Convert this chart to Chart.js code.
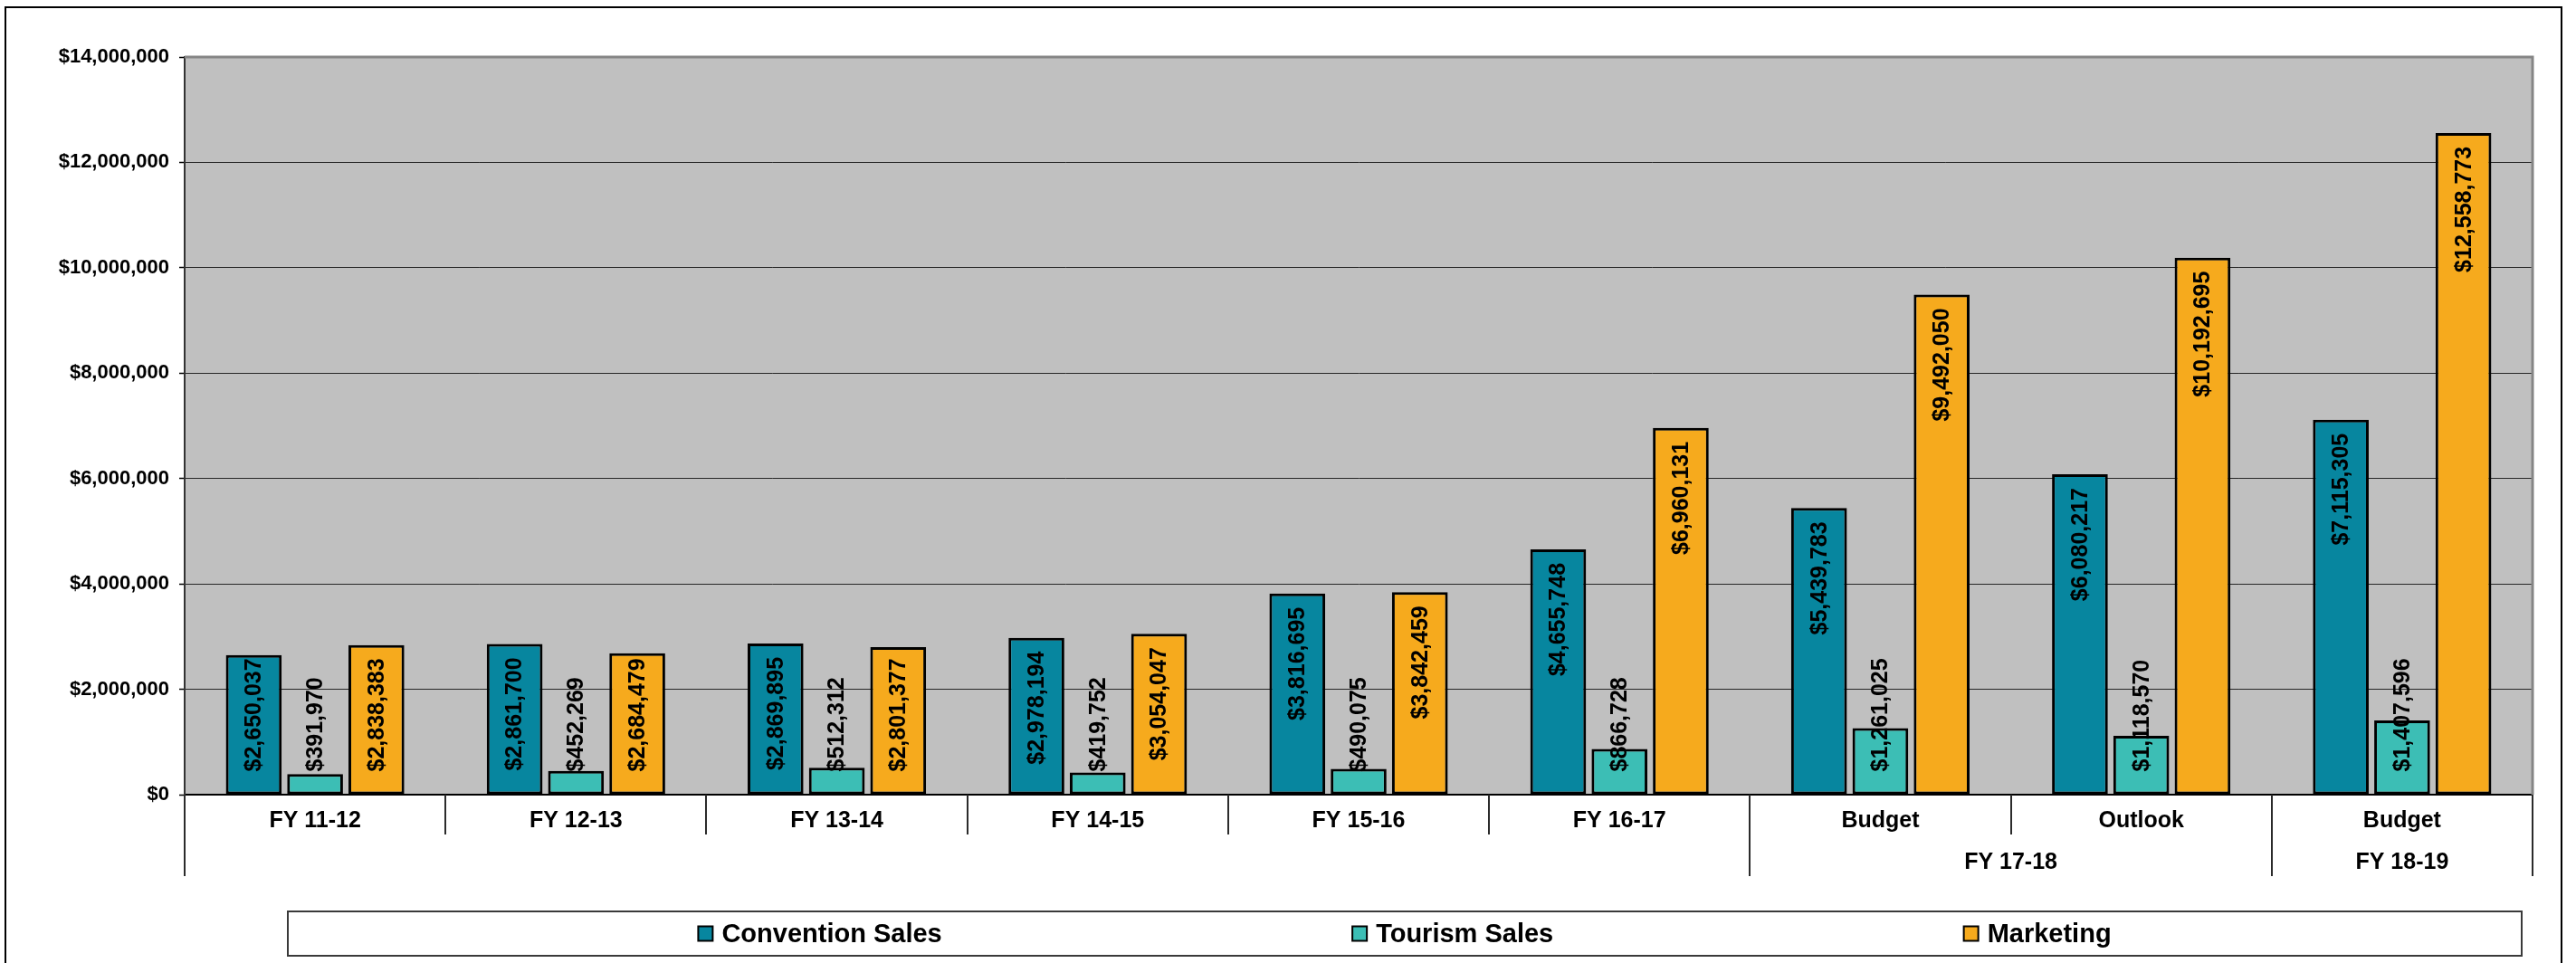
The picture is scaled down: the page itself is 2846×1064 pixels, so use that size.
<!DOCTYPE html>
<html>
<head>
<meta charset="utf-8">
<title>Sales and Marketing by Fiscal Year</title>
<script src="https://cdn.jsdelivr.net/npm/chart.js@4.4.1/dist/chart.umd.min.js"></script>
<style>
    html, body { margin: 0; padding: 0; background: #fff; }
    #wrap { width: 2846px; height: 1064px; position: relative; }
</style>
</head>
<body>
<div id="wrap"><canvas id="salesChart" width="2846" height="1064"></canvas></div>
<script>
// categories along the x axis, with the fiscal year each one rolls up to
const categories = ['FY 11-12', 'FY 12-13', 'FY 13-14', 'FY 14-15', 'FY 15-16', 'FY 16-17', 'Budget', 'Outlook', 'Budget'];
const fiscalGroups = ['', '', '', '', '', '', 'FY 17-18', 'FY 17-18', 'FY 18-19'];

const seriesNames = ['Convention Sales', 'Tourism Sales', 'Marketing'];
const conventionSales = [2650037, 2861700, 2869895, 2978194, 3816695, 4655748, 5439783, 6080217, 7115305];
const tourismSales = [391970, 452269, 512312, 419752, 490075, 866728, 1261025, 1118570, 1407596];
const marketing = [2838383, 2684479, 2801377, 3054047, 3842459, 6960131, 9492050, 10192695, 12558773];

const yMax = 14000000;
const yStep = 2000000;

const colors = ['#07869F', '#3CBEB5', '#F6AA1D'];
const FONT = '"Liberation Sans", Arial, sans-serif';

const money = v => '$' + Number(v).toLocaleString('en-US');

document.addEventListener('DOMContentLoaded', () => {
    // grey plot background
    const plotBackground = {
        id: 'plotBackground',
        beforeDraw(chart) {
            const { ctx, chartArea: a } = chart;
            ctx.save();
            ctx.fillStyle = '#C0C0C0';
            ctx.fillRect(a.left, a.top, a.right - a.left, a.bottom - a.top);
            ctx.restore();
        }
    };

    // rotated value labels inside the bars
    const barValues = {
        id: 'barValues',
        afterDatasetsDraw(chart) {
            const ctx = chart.ctx;
            ctx.save();
            ctx.font = 'bold 25px ' + FONT;
            ctx.fillStyle = '#000';
            ctx.textAlign = 'left';
            ctx.textBaseline = 'middle';
            chart.data.datasets.forEach((ds, di) => {
                chart.getDatasetMeta(di).data.forEach((bar, i) => {
                    const text = money(ds.data[i]);
                    const w = ctx.measureText(text).width;
                    let top = bar.y + 15;
                    if (top + w > bar.base - 25) top = bar.base - 25 - w;
                    ctx.save();
                    ctx.translate(bar.x + 1, top + w);
                    ctx.rotate(-Math.PI / 2);
                    ctx.fillText(text, 0, 0);
                    ctx.restore();
                });
            });
            ctx.restore();
        }
    };

    // plot border, category dividers, fiscal year row, legend and outer frame
    const frame = {
        id: 'frame',
        afterDraw(chart) {
            const { ctx, chartArea: a } = chart;
            const x = chart.scales.x;
            ctx.save();

            // plot area border on top and right
            ctx.strokeStyle = '#858585';
            ctx.lineWidth = 3;
            ctx.beginPath();
            ctx.moveTo(a.left, a.top);
            ctx.lineTo(a.right, a.top);
            ctx.lineTo(a.right, a.bottom);
            ctx.stroke();

            // dividers under the axis between categories
            ctx.strokeStyle = '#2b2b2b';
            ctx.lineWidth = 2;
            const n = categories.length;
            for (let i = 0; i <= n; i++) {
                let px;
                if (i === 0) px = a.left;
                else if (i === n) px = a.right;
                else px = (x.getPixelForValue(i - 1) + x.getPixelForValue(i)) / 2;
                const edge = i === 0 || i === n || fiscalGroups[i - 1] !== fiscalGroups[i];
                ctx.beginPath();
                ctx.moveTo(Math.round(px), a.bottom);
                ctx.lineTo(Math.round(px), a.bottom + (edge ? 90 : 44));
                ctx.stroke();
            }

            // second label row: fiscal years
            ctx.fillStyle = '#000';
            ctx.font = 'bold 25px ' + FONT;
            ctx.textAlign = 'center';
            ctx.textBaseline = 'middle';
            let start = 0;
            for (let i = 1; i <= n; i++) {
                if (i === n || fiscalGroups[i] !== fiscalGroups[start]) {
                    if (fiscalGroups[start]) {
                        const cx = (x.getPixelForValue(start) + x.getPixelForValue(i - 1)) / 2;
                        ctx.fillText(fiscalGroups[start], cx, a.bottom + 75);
                    }
                    start = i;
                }
            }

            // legend box
            const box = { left: 318, right: 2786, top: 1007, bottom: 1056 };
            ctx.strokeStyle = '#3a3a3a';
            ctx.lineWidth = 2;
            ctx.strokeRect(box.left, box.top, box.right - box.left, box.bottom - box.top);
            ctx.font = 'bold 29px ' + FONT;
            ctx.textAlign = 'left';
            const items = chart.data.datasets.map(ds => ({
                label: ds.label,
                color: ds.backgroundColor,
                w: 16 + 10 + ctx.measureText(ds.label).width
            }));
            const used = items.reduce((s, it) => s + it.w, 0);
            const gap = (box.right - box.left - used) / (items.length + 1);
            const cy = (box.top + box.bottom) / 2;
            let lx = box.left + gap;
            items.forEach(it => {
                ctx.fillStyle = it.color;
                ctx.fillRect(lx, cy - 8, 16, 16);
                ctx.strokeStyle = '#000';
                ctx.lineWidth = 2;
                ctx.strokeRect(lx, cy - 8, 16, 16);
                ctx.fillStyle = '#000';
                ctx.fillText(it.label, lx + 26, cy + 1);
                lx += it.w + gap;
            });

            // outer chart frame
            ctx.strokeStyle = '#000';
            ctx.lineWidth = 2;
            ctx.strokeRect(6, 8, 2824, 1070);
            ctx.restore();
        }
    };

    const ctx = document.getElementById('salesChart').getContext('2d');
    new Chart(ctx, {
        type: 'bar',
        data: {
            labels: categories,
            datasets: [conventionSales, tourismSales, marketing].map((values, k) => ({
                label: seriesNames[k],
                data: values,
                backgroundColor: colors[k],
                borderColor: '#000',
                borderWidth: 3,
                borderSkipped: false,
                categoryPercentage: 0.705,
                barPercentage: 0.91
            }))
        },
        options: {
            responsive: false,
            animation: false,
            layout: { padding: { top: 63, right: 48, left: 0, bottom: 0 } },
            plugins: {
                legend: { display: false },
                tooltip: { enabled: false }
            },
            scales: {
                x: {
                    offset: true,
                    grid: { display: false, drawTicks: false },
                    border: { display: true, color: '#000', width: 2 },
                    ticks: {
                        color: '#000',
                        padding: 14,
                        maxRotation: 0,
                        autoSkip: false,
                        font: { family: FONT, size: 25, weight: 'bold' }
                    },
                    afterFit(scale) { scale.height = 186; }
                },
                y: {
                    min: 0,
                    max: yMax,
                    grid: {
                        color: '#262626',
                        lineWidth: 1,
                        tickLength: 6,
                        tickColor: '#000',
                        tickWidth: 1.5
                    },
                    border: { display: true, color: '#333', width: 2 },
                    ticks: {
                        stepSize: yStep,
                        color: '#000',
                        padding: 11,
                        font: { family: FONT, size: 22, weight: 'bold' },
                        callback: v => money(v)
                    },
                    afterFit(scale) { scale.width = 204; }
                }
            }
        },
        plugins: [plotBackground, barValues, frame]
    });
});
</script>
</body>
</html>
